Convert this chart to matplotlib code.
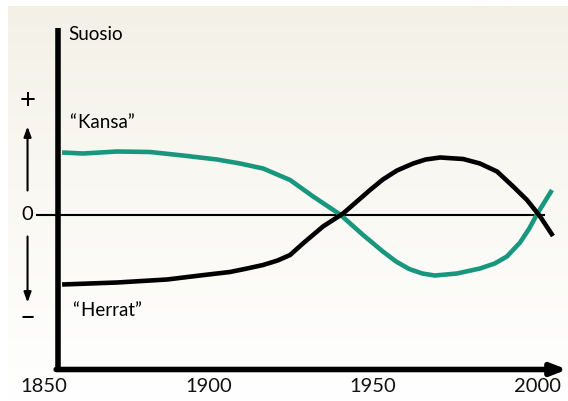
import numpy as np
import matplotlib.pyplot as plt

# year, popularity (arbitrary units)
kansa_year = [1855.5, 1861.9, 1872.2, 1882.2, 1892.2, 1902.6, 1909.6, 1916.6, 1924.8, 1931.8,
              1940.0, 1947.0, 1953.0, 1957.0, 1961.0, 1965.0, 1968.8, 1975.5, 1982.5, 1987.0,
              1990.7, 1994.7, 1997.5, 1999.8, 2004.4]
kansa_val = [0.62, 0.61, 0.63, 0.625, 0.59, 0.55, 0.51, 0.46, 0.345, 0.18,
             0.0, -0.205, -0.37, -0.47, -0.545, -0.59, -0.61, -0.59, -0.54, -0.49,
             -0.42, -0.28, -0.14, 0.0, 0.245]
herrat_year = [1855.5, 1872.2, 1887.4, 1897.4, 1906.5, 1911, 1916.6, 1921, 1924.8, 1928.7,
               1934.8, 1940.9, 1949.1, 1953.0, 1957.3, 1962.2, 1966, 1970.4, 1977.4, 1982.5,
               1987.7, 1992.6, 1996.8, 2000.8, 2004.7]
herrat_val = [-0.70, -0.68, -0.65, -0.61, -0.575, -0.545, -0.505, -0.46, -0.405, -0.29,
              -0.12, 0.01, 0.245, 0.35, 0.44, 0.51, 0.55, 0.57, 0.555, 0.51,
              0.43, 0.28, 0.145, -0.02, -0.215]
year_ticks = [1850, 1900, 1950, 2000]

plt.rcParams['font.family'] = ['Lato', 'DejaVu Sans']

fig = plt.figure(figsize=(5.68, 4.01), dpi=100)
ax = fig.add_axes([0, 0, 1, 1])
x0, x1 = 1836.63, 2009.27
y0, y1 = -1.865, 2.145
ax.set_xlim(x0, x1)
ax.set_ylim(y0, y1)
ax.axis('off')

# background gradient
grad = np.linspace(0, 1, 256).reshape(-1, 1)
top = np.array([243, 241, 230]) / 255
bot = np.array([255, 255, 255]) / 255
img = top + (bot - top) * grad[:, :, None] ** 0.9
ax.imshow(img, extent=[x0 + 8 / 3.29, x1, y0, y1 - 0.06], aspect='auto', zorder=0)

green = '#19977e'
ax.plot(kansa_year, kansa_val, color=green, lw=3.3, solid_capstyle='butt',
        solid_joinstyle='round', zorder=3)
ax.plot(herrat_year, herrat_val, color='black', lw=3.3, solid_capstyle='butt',
        solid_joinstyle='round', zorder=3)

# axes
xa = 1854.3
ax.plot([1848.0, 2001.9], [0, 0], color='black', lw=1.5, zorder=2)
ax.plot([xa, xa], [-1.55, 1.87], color='black', lw=4, solid_capstyle='butt', zorder=4)
ax.annotate('', xy=(2009.0, -1.55), xytext=(xa - 0.6, -1.55),
            arrowprops=dict(arrowstyle='-|>,head_length=0.9,head_width=0.35',
                            color='black', lw=4, shrinkA=0, shrinkB=0), zorder=4)

for yr in year_ticks:
    ax.text(yr, -1.72, str(yr), ha='center', va='center', fontsize=14.5, color='#111111')

xs = 1845.0
ax.text(xs, 1.14, '+', ha='center', va='center', fontsize=20)
ax.text(xs, 0.0, '0', ha='center', va='center', fontsize=14.5)
ax.text(xs, -1.04, '\u2013', ha='center', va='center', fontsize=20)
ax.annotate('', xy=(xs, 0.88), xytext=(xs, 0.24),
            arrowprops=dict(arrowstyle='-|>,head_length=0.6,head_width=0.22',
                            color='black', lw=1.5, shrinkA=0, shrinkB=0))
ax.annotate('', xy=(xs, -0.88), xytext=(xs, -0.22),
            arrowprops=dict(arrowstyle='-|>,head_length=0.6,head_width=0.22',
                            color='black', lw=1.5, shrinkA=0, shrinkB=0))

ax.text(1857.4, 1.80, 'Suosio', ha='left', va='center', fontsize=13.5)
ax.text(1857.8, 0.92, '\u201c\u200aKansa\u201d', ha='left', va='center', fontsize=13.5)
ax.text(1858.8, -0.96, '\u201c\u200aHerrat\u201d', ha='left', va='center', fontsize=13.5)

fig.savefig('out.png', dpi=100)
